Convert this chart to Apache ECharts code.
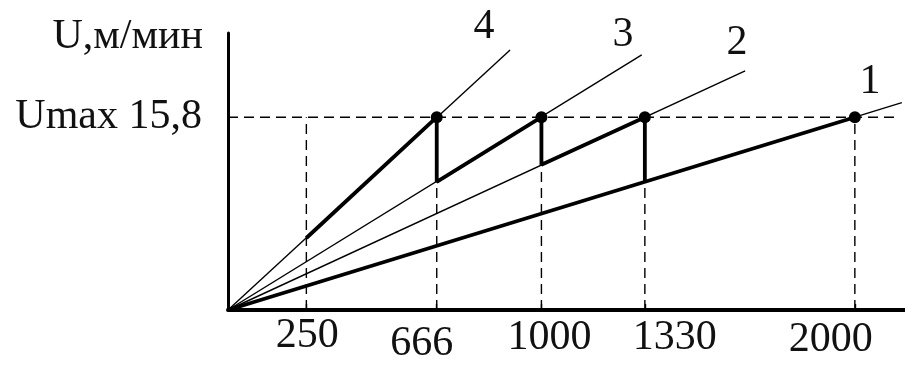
<!DOCTYPE html>
<html>
<head>
<meta charset="utf-8">
<script src="https://cdn.jsdelivr.net/npm/echarts@6/dist/echarts.min.js"></script>
<style>html,body{margin:0;padding:0;background:#fff}#c{width:905px;height:365px}</style>
</head>
<body>
<div id="c"></div>
<script>
// ---- data ----
var speedTicks = [250, 666, 1000, 1330, 2000];       // x tick values (n)
var umax = 15.8;                                       // U max, m/min
var yName = 'U,м/мин';
var umaxLabel = 'Umax 15,8';
// thin rays from origin (end points)
var ray4 = [[0, 0], [900, 21.3]];
var ray3 = [[0, 0], [1320, 20.9]];
var ray2 = [[0, 0], [1650, 19.6]];
var ray1 = [[0, 0], [2150, 17.0]];
// thick working characteristic
var working = [[250, 5.9], [666, 15.8], [666, 10.5], [1000, 15.8], [1000, 11.9], [1330, 15.8], [1330, 10.5]];
var line1Thick = [[0, 0], [2000, 15.8]];
// dots at Umax
var dots = [[666, 15.8], [1000, 15.8], [1330, 15.8], [2000, 15.8]];
// horizontal guide
var hGuide = [[0, 15.8], [2125, 15.8]];
// curve numbers
var curveNames = ['4', '3', '2', '1'];
var curveLabelPos = [[817, 23.2], [1260, 22.5], [1624, 21.9], [2048, 18.7]];

var FONT = '"Liberation Serif","DejaVu Serif",serif';
var INK = '#111';

var series = [];
function addLine(data, width, dashed) {
  series.push({
    type: 'line', data: data, symbol: 'none', silent: true, clip: false,
    lineStyle: { color: '#000', width: width, type: dashed ? [10, 6] : 'solid' },
    z: dashed ? 1 : 2
  });
}
[ray4, ray3, ray2, ray1].forEach(function (r) { addLine(r, 1.4, false); });
speedTicks.forEach(function (n) { addLine([[n, 0], [n, umax]], 1.4, true); });
addLine(hGuide, 1.4, true);
addLine(line1Thick, 3.8, false);
addLine(working, 3.8, false);
series.push({
  type: 'scatter', data: dots, symbol: 'circle', symbolSize: 12,
  itemStyle: { color: '#000', opacity: 1 }, z: 5, silent: true
});
series.push({
  type: 'scatter', clip: false, silent: true, symbolSize: 1,
  itemStyle: { opacity: 0 },
  data: curveLabelPos.map(function (p, i) { return { value: p, name: curveNames[i] }; }),
  label: {
    show: true, position: 'inside', formatter: '{b}', opacity: 1,
    fontFamily: FONT, fontSize: 42, color: INK
  },
  z: 6
});

var labelRich = {
  s250: { fontFamily: FONT, fontSize: 42, color: INK, padding: [0, 0, 0, 2] },
  s666: { fontFamily: FONT, fontSize: 42, color: INK, padding: [8, 30, 0, 0] },
  s1000: { fontFamily: FONT, fontSize: 42, color: INK, padding: [2, 0, 0, 16] },
  s1330: { fontFamily: FONT, fontSize: 42, color: INK, padding: [2, 0, 0, 60] },
  s2000: { fontFamily: FONT, fontSize: 42, color: INK, padding: [4, 48, 0, 0] }
};

var chart = echarts.init(document.getElementById('c'), null, { renderer: 'canvas' });
chart.setOption({
  animation: false,
  backgroundColor: '#fff',
  grid: { left: 228, right: 0, top: 33, bottom: 46, containLabel: false },
  xAxis: {
    type: 'value', min: 0, max: 2160,
    splitLine: { show: false },
    axisLine: { show: true, lineStyle: { color: '#000', width: 4 } },
    axisTick: { show: true, inside: true, length: 6, customValues: speedTicks, lineStyle: { color: '#000', width: 1.4 } },
    axisLabel: {
      show: true, customValues: speedTicks, margin: 5,
      formatter: function (v) { return '{s' + v + '|' + v + '}'; },
      rich: labelRich
    }
  },
  yAxis: {
    type: 'value', min: 0, max: 22.7,
    splitLine: { show: false },
    name: yName, nameLocation: 'end', nameGap: -4,
    nameTextStyle: { fontFamily: FONT, fontSize: 42, color: INK, align: 'right', verticalAlign: 'middle', padding: [0, 25, 0, 0] },
    axisLine: { show: true, lineStyle: { color: '#000', width: 3 } },
    axisTick: { show: false },
    axisLabel: {
      show: true, customValues: [umax], margin: 26,
      formatter: function () { return umaxLabel; },
      fontFamily: FONT, fontSize: 42, color: INK
    }
  },
  series: series
});
</script>
</body>
</html>
